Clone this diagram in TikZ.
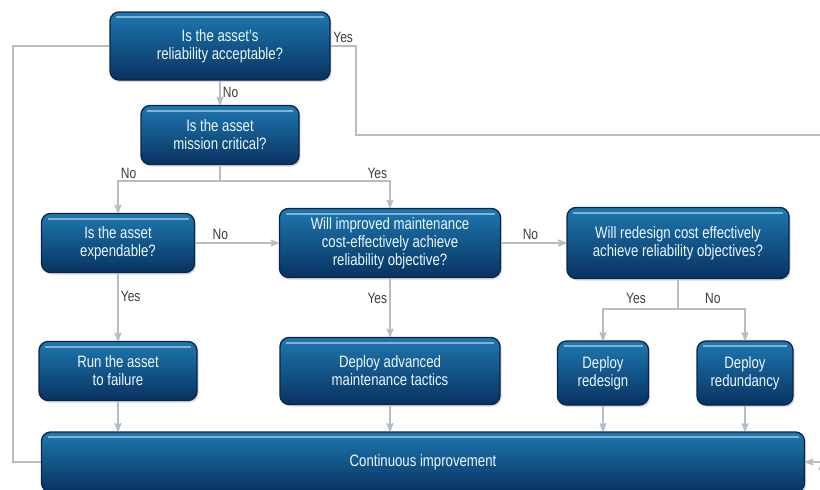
\documentclass[tikz,border=0pt]{standalone}
\usepackage{fontspec}
\setmainfont[FakeStretch=0.8]{Liberation Sans}
\usepackage{tikz}
\usetikzlibrary{arrows,shadows}

\definecolor{boxtop}{RGB}{30,120,176}
\definecolor{boxmid}{RGB}{16,88,144}
\definecolor{boxbot}{RGB}{8,50,96}
\definecolor{boxline}{RGB}{10,36,74}
\definecolor{flowline}{RGB}{184,188,196}
\definecolor{labgray}{RGB}{60,60,60}

\begin{document}
\begin{tikzpicture}[x=1pt,y=-1pt,>=stealth',shorten >=0pt,
        qbox/.style={rectangle,rounded corners=9pt,draw=boxline,line width=1.3pt,
          top color=boxtop,middle color=boxmid,bottom color=boxbot,
          text=white!92!cyan,align=center,inner sep=2pt,
          font=\fontsize{16.5}{18}\selectfont,
          drop shadow={opacity=0.3,shadow xshift=1.5pt,shadow yshift=-2pt},
          path picture={\draw[white!55!boxtop,line width=2pt,opacity=0.8]
            ([xshift=6pt,yshift=-5pt]path picture bounding box.north west) --
            ([xshift=-6pt,yshift=-5pt]path picture bounding box.north east);}},
        flow/.style={draw=flowline,line width=1.8pt},
        lab/.style={text=labgray,font=\fontsize{15}{17}\selectfont,inner sep=2pt}]

  \useasboundingbox (0,0) rectangle (820,490);

  % questions
  \node[qbox,minimum width=220pt,minimum height=68pt] (reliable) at (220,46)
        {Is the asset's\\reliability acceptable?};
  \node[qbox,minimum width=158pt,minimum height=59pt] (critical)
        [below of=reliable,node distance=89pt] {Is the asset\\mission critical?};
  \node[qbox,minimum width=153pt,minimum height=59pt] (expend) at (118,243)
        {Is the asset\\expendable?};
  \node[qbox,minimum width=221pt,minimum height=69pt] (maint)
        [right of=expend,node distance=272pt]
        {Will improved maintenance\\cost-effectively achieve\\reliability objective?};
  \node[qbox,minimum width=222pt,minimum height=71pt] (redesign)
        [right of=maint,node distance=288pt]
        {Will redesign cost effectively\\achieve reliability objectives?};

  % actions
  \node[qbox,minimum width=158pt,minimum height=59pt] (runfail)
        [below of=expend,node distance=128pt] {Run the asset\\to failure};
  \node[qbox,minimum width=220pt,minimum height=67pt] (advanced)
        [below of=maint,node distance=128pt] {Deploy advanced\\maintenance tactics};
  \node[qbox,minimum width=91pt,minimum height=64pt] (redes) at (603,373)
        {Deploy\\redesign};
  \node[qbox,minimum width=96pt,minimum height=64pt] (redund)
        [right of=redes,node distance=142pt] {Deploy\\redundancy};
  \node[qbox,minimum width=763pt,minimum height=60pt] (improve) at (423,462)
        {Continuous improvement};

  \coordinate (exitR) at (822,135);
  \coordinate (backR) at (822,462);

  \path[flow,->] (reliable) edge node[lab,right] {No} (critical)
        (expend) edge node[lab,above,pos=0.3] {No} (maint)
        (maint) edge node[lab,above,pos=0.45] {No} (redesign)
        (expend) edge node[lab,right,pos=0.35] {Yes} (runfail)
        (maint) edge node[lab,left,pos=0.35] {Yes} (advanced)
        (backR) edge (improve);

  \draw[flow] (critical.south) -- ++(0,-16pt) coordinate (split1);
  \draw[flow,->] (split1) -| node[lab,anchor=south west,pos=0.5] {No} (expend);
  \draw[flow,->] (split1) -| node[lab,anchor=south east,pos=0.5] {Yes} (maint);

  \draw[flow] (redesign.south) -- ++(0,-30pt) coordinate (split2);
  \draw[flow,->] (split2) -| node[lab,above=3pt,pos=0.28] {Yes} (redes);
  \draw[flow,->] (split2) -| node[lab,above=3pt,pos=0.26] {No} (redund);

  \foreach \act in {runfail,advanced,redes,redund}
    \draw[flow,->] (\act) -- (\act |- improve.north);

  % loops
  \draw[flow] (reliable.west) -- ++(-96pt,0) |- (improve.west);
  \draw[flow] (reliable.east) -- node[lab,above] {Yes} ++(25pt,0) |- (exitR);

\end{tikzpicture}
\end{document}
